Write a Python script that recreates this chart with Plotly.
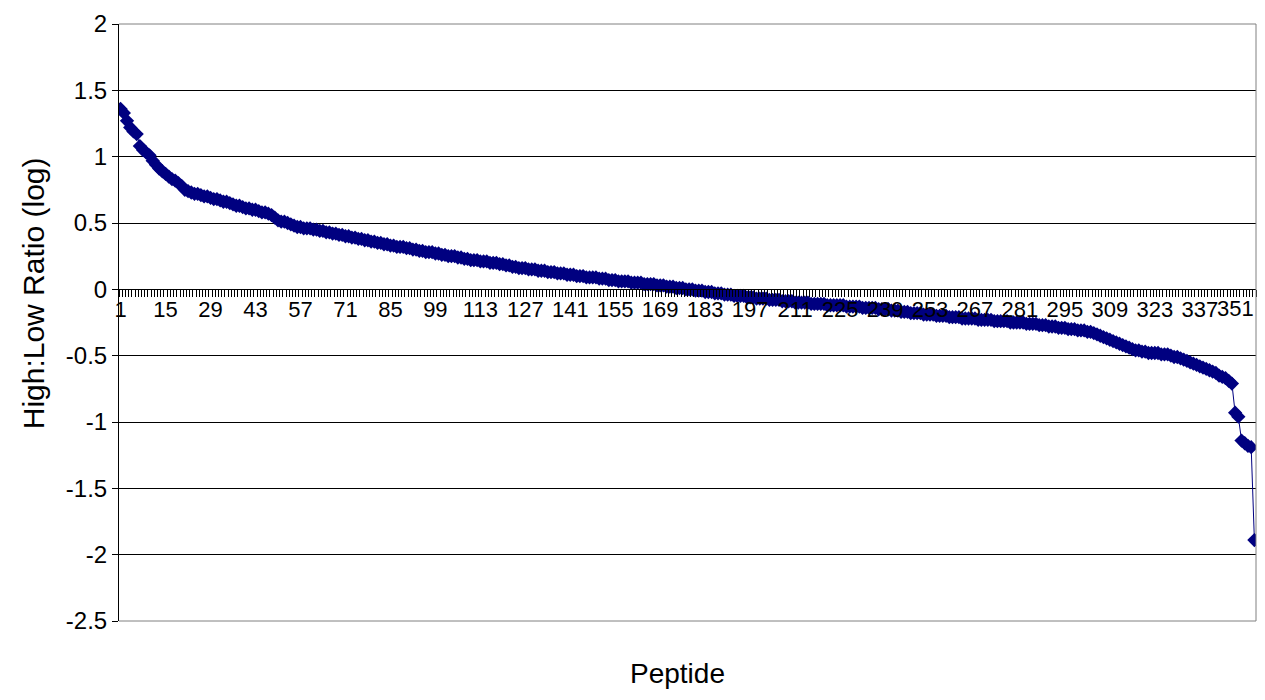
import plotly.graph_objects as go

# Peptide high:low ratio (log), sorted descending
values = [
    1.36, 1.33, 1.27, 1.22, 1.19, 1.17, 1.08, 1.05, 1.03, 1.01,
    0.97, 0.94, 0.91, 0.89, 0.87, 0.85, 0.83, 0.82, 0.80, 0.78,
    0.75, 0.74, 0.73, 0.72, 0.72, 0.71, 0.70, 0.70, 0.69, 0.68,
    0.68, 0.67, 0.66, 0.66, 0.65, 0.64, 0.63, 0.63, 0.62, 0.61,
    0.61, 0.60, 0.60, 0.59, 0.58, 0.58, 0.57, 0.56, 0.54, 0.52,
    0.51, 0.51, 0.50, 0.49, 0.48, 0.47, 0.47, 0.46, 0.46, 0.46,
    0.45, 0.45, 0.44, 0.44, 0.43, 0.43, 0.42, 0.42, 0.41, 0.41,
    0.40, 0.40, 0.39, 0.39, 0.38, 0.38, 0.37, 0.37, 0.36, 0.36,
    0.35, 0.35, 0.34, 0.34, 0.33, 0.33, 0.32, 0.32, 0.32, 0.31,
    0.31, 0.30, 0.30, 0.29, 0.29, 0.28, 0.28, 0.28, 0.27, 0.27,
    0.26, 0.26, 0.25, 0.25, 0.25, 0.24, 0.24, 0.23, 0.23, 0.22,
    0.22, 0.22, 0.21, 0.21, 0.21, 0.20, 0.20, 0.20, 0.19, 0.19,
    0.18, 0.18, 0.17, 0.17, 0.16, 0.16, 0.16, 0.15, 0.15, 0.15,
    0.14, 0.14, 0.14, 0.13, 0.13, 0.13, 0.12, 0.12, 0.12, 0.11,
    0.11, 0.11, 0.10, 0.10, 0.10, 0.09, 0.09, 0.09, 0.09, 0.08,
    0.08, 0.08, 0.07, 0.07, 0.07, 0.06, 0.06, 0.06, 0.06, 0.05,
    0.05, 0.05, 0.05, 0.04, 0.04, 0.04, 0.04, 0.03, 0.03, 0.03,
    0.02, 0.02, 0.02, 0.01, 0.01, 0.01, 0.00, 0.00, 0.00, -0.01,
    -0.01, -0.01, -0.02, -0.02, -0.02, -0.03, -0.03, -0.03, -0.04, -0.04,
    -0.04, -0.05, -0.05, -0.05, -0.05, -0.06, -0.06, -0.06, -0.07, -0.07,
    -0.07, -0.07, -0.08, -0.08, -0.08, -0.08, -0.09, -0.09, -0.09, -0.09,
    -0.10, -0.10, -0.10, -0.10, -0.10, -0.11, -0.11, -0.11, -0.11, -0.11,
    -0.12, -0.12, -0.12, -0.12, -0.12, -0.12, -0.13, -0.13, -0.13, -0.13,
    -0.13, -0.14, -0.14, -0.14, -0.14, -0.14, -0.15, -0.15, -0.15, -0.15,
    -0.16, -0.16, -0.16, -0.17, -0.17, -0.17, -0.18, -0.18, -0.18, -0.18,
    -0.19, -0.19, -0.19, -0.19, -0.20, -0.20, -0.20, -0.20, -0.21, -0.21,
    -0.21, -0.21, -0.22, -0.22, -0.22, -0.22, -0.22, -0.23, -0.23, -0.23,
    -0.23, -0.23, -0.24, -0.24, -0.24, -0.24, -0.24, -0.25, -0.25, -0.25,
    -0.25, -0.25, -0.26, -0.26, -0.26, -0.26, -0.27, -0.27, -0.27, -0.28,
    -0.28, -0.28, -0.29, -0.29, -0.29, -0.30, -0.30, -0.30, -0.31, -0.31,
    -0.31, -0.32, -0.32, -0.33, -0.34, -0.35, -0.36, -0.37, -0.38, -0.39,
    -0.40, -0.41, -0.42, -0.43, -0.44, -0.45, -0.46, -0.46, -0.47, -0.47,
    -0.48, -0.48, -0.48, -0.48, -0.49, -0.49, -0.49, -0.50, -0.51, -0.51,
    -0.52, -0.53, -0.54, -0.55, -0.56, -0.57, -0.58, -0.59, -0.60, -0.61,
    -0.62, -0.63, -0.65, -0.66, -0.67, -0.69, -0.71,
    -0.93, -0.96, -1.14, -1.16, -1.18, -1.19, -1.89,
]
peptides = list(range(1, len(values) + 1))
x_tick_labels = [str(v) for v in range(1, len(values) + 1, 14)]
y_ticks = [2, 1.5, 1, 0.5, 0, -0.5, -1, -1.5, -2, -2.5]
y_tick_labels = ["2", "1.5", "1", "0.5", "0", "-0.5", "-1", "-1.5", "-2", "-2.5"]

FONT = "Liberation Sans, Arial, sans-serif"
NAVY = "#000080"
Y_MIN, Y_MAX = -2.5, 2.0
AXIS_POS = (0 - Y_MIN) / (Y_MAX - Y_MIN)
XTICK_SIZE = 22

# the last category label sits against the right border; it is written as an
# annotation so that it never runs past the page edge
inner_labels = x_tick_labels[:-1]
edge_label = x_tick_labels[-1]

fig = go.Figure()
fig.add_trace(go.Scatter(
    x=peptides, y=values, mode="lines+markers",
    line=dict(color=NAVY, width=1),
    marker=dict(symbol="diamond", size=11, color=NAVY, line=dict(width=0)),
    showlegend=False,
))

# page body keeps its default 8px margin, so the figure is 16px smaller
fig.update_layout(
    width=1249, height=684,
    margin=dict(l=111, r=1, t=16, b=71),
    paper_bgcolor="white", plot_bgcolor="white",
    font=dict(family=FONT, size=23, color="black"),
    xaxis=dict(
        range=[0.5, len(values) + 0.5],
        tickmode="array",
        tickvals=[int(t) for t in inner_labels],
        ticktext=inner_labels,
        ticks="outside", ticklen=0,
        showgrid=False, zeroline=False,
        showline=True, linecolor="black", linewidth=1,
        anchor="free", position=AXIS_POS,
        tickfont=dict(size=XTICK_SIZE, color="black"),
        minor=dict(tickmode="linear", tick0=0.5, dtick=1, ticks="outside",
                   ticklen=7, tickcolor="black", tickwidth=1, showgrid=False),
    ),
    yaxis=dict(
        range=[Y_MIN, Y_MAX],
        tickmode="array", tickvals=y_ticks, ticktext=y_tick_labels,
        ticks="outside", ticklen=6, tickcolor="black",
        showgrid=True, gridcolor="black", gridwidth=1,
        zeroline=False,
        showline=True, linecolor="black", linewidth=1,
        tickfont=dict(size=24, color="black"),
    ),
    shapes=[
        dict(type="line", xref="paper", yref="paper", x0=0, x1=1, y0=1, y1=1,
             line=dict(color="#808080", width=1), layer="above"),
        dict(type="line", xref="paper", yref="paper", x0=1, x1=1, y0=0, y1=1,
             line=dict(color="#808080", width=1), layer="above"),
        dict(type="line", xref="paper", yref="paper", x0=0, x1=1, y0=0, y1=0,
             line=dict(color="#808080", width=1), layer="above"),
    ],
    annotations=[
        dict(text=edge_label, xref="paper", yref="paper", x=0.9995, y=AXIS_POS,
             xanchor="right", yanchor="top", yshift=-6, showarrow=False,
             borderpad=0, font=dict(family=FONT, size=XTICK_SIZE, color="black")),
        dict(text="Peptide", xref="paper", yref="paper", x=0.491, y=-0.117,
             xanchor="center", yanchor="bottom", showarrow=False,
             font=dict(family=FONT, size=28, color="black")),
        dict(text="High:Low Ratio (log)", xref="paper", yref="paper",
             x=-0.0756, y=0.549, textangle=-90,
             xanchor="center", yanchor="middle", showarrow=False,
             font=dict(family=FONT, size=30, color="black")),
    ],
)

fig.write_html("out.html", config={"displayModeBar": False})
